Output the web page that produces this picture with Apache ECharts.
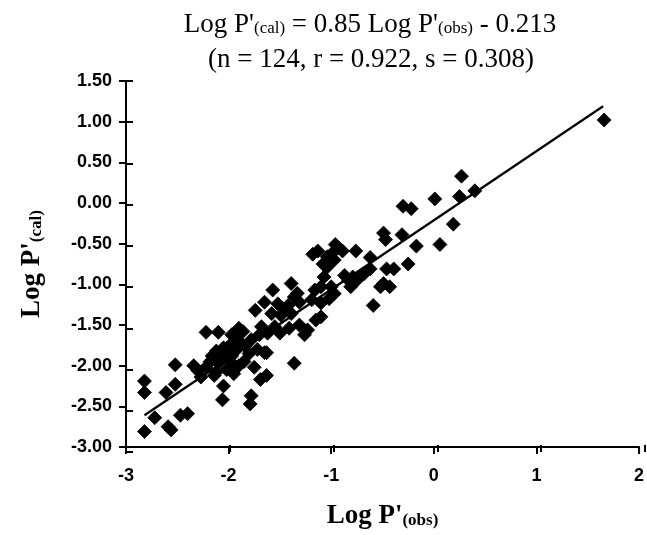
<!DOCTYPE html>
<html><head><meta charset="utf-8">
<script src="https://cdn.jsdelivr.net/npm/echarts@6/dist/echarts.min.js"></script>
<style>html,body{margin:0;padding:0;background:#fff}#c{width:647px;height:535px}</style>
</head><body><div id="c"></div>
<script>
const obsX = [
  -2.82,-2.82,-2.82,-2.72,-2.61,-2.59,-2.56,-2.52,-2.52,-2.47,-2.40,-2.34,-2.27,-2.22,-2.16,-2.10,-2.05,-2.06,-1.90,-1.78,
  -1.79,-1.74,-1.65,-1.57,-1.985,-1.65,-1.69,-1.63,
  -2.30,-2.22,-2.18,-2.12,-2.10,-2.05,-2.02,-2.00,-1.97,-1.97,-1.95,-1.92,-1.90,-1.88,-1.85,-1.84,-1.80,-1.78,-1.75,-1.72,
  -1.70,-1.68,-1.63,-1.62,-1.97,-2.05,-2.12,-2.14,-1.92,-1.86,
  -1.55,-1.52,-1.58,-1.47,-1.49,-1.42,-1.39,-1.39,-1.36,-1.31,-1.33,-1.41,-1.31,-1.26,-1.23,-1.15,-1.36,-1.50,
  -1.18,-1.16,-1.19,-1.04,-1.07,-1.08,-0.97,-1.02,-0.96,-0.89,-0.93,-1.00,-1.13,-0.76,-0.79,-0.81,-0.87,-0.83,-0.75,-0.68,
  -1.00,-1.10,-1.10,-1.10,-0.97,-1.04,
  -0.62,-0.62,-0.59,-0.49,-0.47,-0.31,-0.49,-0.43,-0.46,-0.39,-0.25,-0.17,0.06,-0.30,-0.22,0.01,0.19,0.25,0.40,0.27,1.66,-0.52
];
const calY = [
  -2.19,-2.33,-2.81,-2.64,-2.33,-2.75,-2.79,-2.23,-1.99,-2.61,-2.59,-2.00,-2.14,-1.59,-1.88,-1.59,-2.25,-2.42,-1.54,-2.37,
  -2.47,-1.32,-1.22,-1.07,-1.745,-1.84,-2.17,-2.12,
  -2.06,-2.02,-1.95,-2.08,-1.97,-1.90,-2.05,-1.85,-1.88,-1.965,-2.10,-1.80,-2.00,-1.72,-1.95,-1.76,-1.85,-1.68,-2.02,-1.80,
  -1.62,-1.52,-1.84,-1.60,-1.62,-1.78,-1.82,-2.12,-1.68,-1.58,
  -1.52,-1.24,-1.36,-1.30,-1.38,-1.26,-1.36,-0.99,-1.155,-1.22,-1.11,-1.54,-1.50,-1.62,-1.56,-1.44,-1.97,-1.60,
  -0.63,-1.07,-1.19,-0.79,-0.91,-0.75,-1.115,-1.176,-0.51,-0.59,-0.55,-0.63,-0.59,-0.59,-0.91,-1.03,-0.89,-0.95,-0.95,-0.87,
  -1.03,-1.03,-1.23,-1.40,-0.70,-0.66,
  -0.67,-0.81,-1.26,-0.37,-0.45,-0.39,-0.99,-1.03,-0.81,-0.81,-0.75,-0.53,-0.51,-0.04,-0.07,0.05,-0.26,0.08,0.15,0.33,1.02,-1.03
];
const xTicks = [-3, -2, -1, 0, 1, 2];
const yTicks = [-3.0, -2.5, -2.0, -1.5, -1.0, -0.5, 0.0, 0.5, 1.0, 1.5];
// regression line from the equation in the title
const slope = 0.85;
const intercept = -0.213;
const fitX = [-2.82, 1.65];

const points = obsX.map((x, i) => [x, calY[i]]);
const fitLine = fitX.map(x => [x, slope * x + intercept]);

const gridBox = { left: 126, right: 2, top: 81, bottom: 83, containLabel: false };
const axisCol = '#000';
const xMin = xTicks[0], xMax = xTicks[xTicks.length - 1];
const yMin = yTicks[0], yMax = yTicks[yTicks.length - 1];
const tickFont = { color: '#000', fontSize: 18, fontWeight: 'bold', fontFamily: 'Liberation Sans' };
const nameFont = { fontFamily: 'Liberation Serif', fontWeight: 'bold', fontSize: 27, color: '#000',
  rich: { s: { fontFamily: 'Liberation Serif', fontWeight: 'bold', fontSize: 17, padding: [9, 0, 0, 0], color: '#000' } } };

const chart = echarts.init(document.getElementById('c'), null, { renderer: 'canvas' });
chart.setOption({
  animation: false,
  backgroundColor: '#fff',
  grid: [Object.assign({}, gridBox), Object.assign({}, gridBox)],
  graphic: [
    { type: 'text', x: 370, y: 25, z: 10,
      style: { text: "Log P'{s|(cal)} = 0.85 Log P'{s|(obs)} - 0.213",
        font: '27px "Liberation Serif"', fill: '#000',
        align: 'center', textAlign: 'center', verticalAlign: 'middle', textVerticalAlign: 'middle',
        rich: { s: { fontSize: 17, fontFamily: 'Liberation Serif', padding: [8, 0, 0, 0], fill: '#000' } } } },
    { type: 'text', x: 371, y: 60, z: 10,
      style: { text: '(n = 124, r = 0.922, s = 0.308)',
        font: '27px "Liberation Serif"', fill: '#000',
        align: 'center', textAlign: 'center', verticalAlign: 'middle', textVerticalAlign: 'middle' } }
  ],
  xAxis: [
    { type: 'value', gridIndex: 0, min: xMin, max: xMax, interval: 1,
      axisLine: { show: true, onZero: false, lineStyle: { color: axisCol, width: 2 } },
      axisTick: { show: true, length: 7, lineStyle: { color: axisCol, width: 2 } },
      splitLine: { show: false },
      axisLabel: Object.assign({ margin: 20 }, tickFont),
      name: "Log P'{s|(obs)}", nameLocation: 'middle', nameGap: 56,
      nameTextStyle: nameFont },
    { type: 'value', gridIndex: 1, min: xMin, max: xMax, interval: 1,
      axisLine: { show: false, onZero: false }, splitLine: { show: false }, axisLabel: { show: false },
      axisTick: { show: true, inside: true, length: 7, lineStyle: { color: axisCol, width: 2 } } }
  ],
  yAxis: [
    { type: 'value', gridIndex: 0, min: yMin, max: yMax, interval: 0.5,
      axisLine: { show: true, onZero: false, lineStyle: { color: axisCol, width: 2 } },
      axisTick: { show: true, length: 7, lineStyle: { color: axisCol, width: 2 } },
      splitLine: { show: false },
      axisLabel: Object.assign({ margin: 14, formatter: v => v.toFixed(2) }, tickFont),
      name: "Log P'{s|(cal)}", nameLocation: 'middle', nameGap: 80, nameRotate: 90,
      nameTextStyle: nameFont },
    { type: 'value', gridIndex: 1, min: yMin, max: yMax, interval: 0.5,
      axisLine: { show: false, onZero: false }, splitLine: { show: false }, axisLabel: { show: false },
      axisTick: { show: true, inside: true, length: 7, lineStyle: { color: axisCol, width: 2 } } }
  ],
  series: [
    { type: 'scatter', xAxisIndex: 0, yAxisIndex: 0, data: points,
      symbol: 'diamond', symbolSize: 14,
      itemStyle: { color: '#000', opacity: 1, borderColor: '#000', borderWidth: 0.8, borderJoin: 'round' } },
    { type: 'line', xAxisIndex: 0, yAxisIndex: 0, data: fitLine, symbol: 'none',
      lineStyle: { color: '#000', width: 2.2 } }
  ]
});
</script>
</body></html>
